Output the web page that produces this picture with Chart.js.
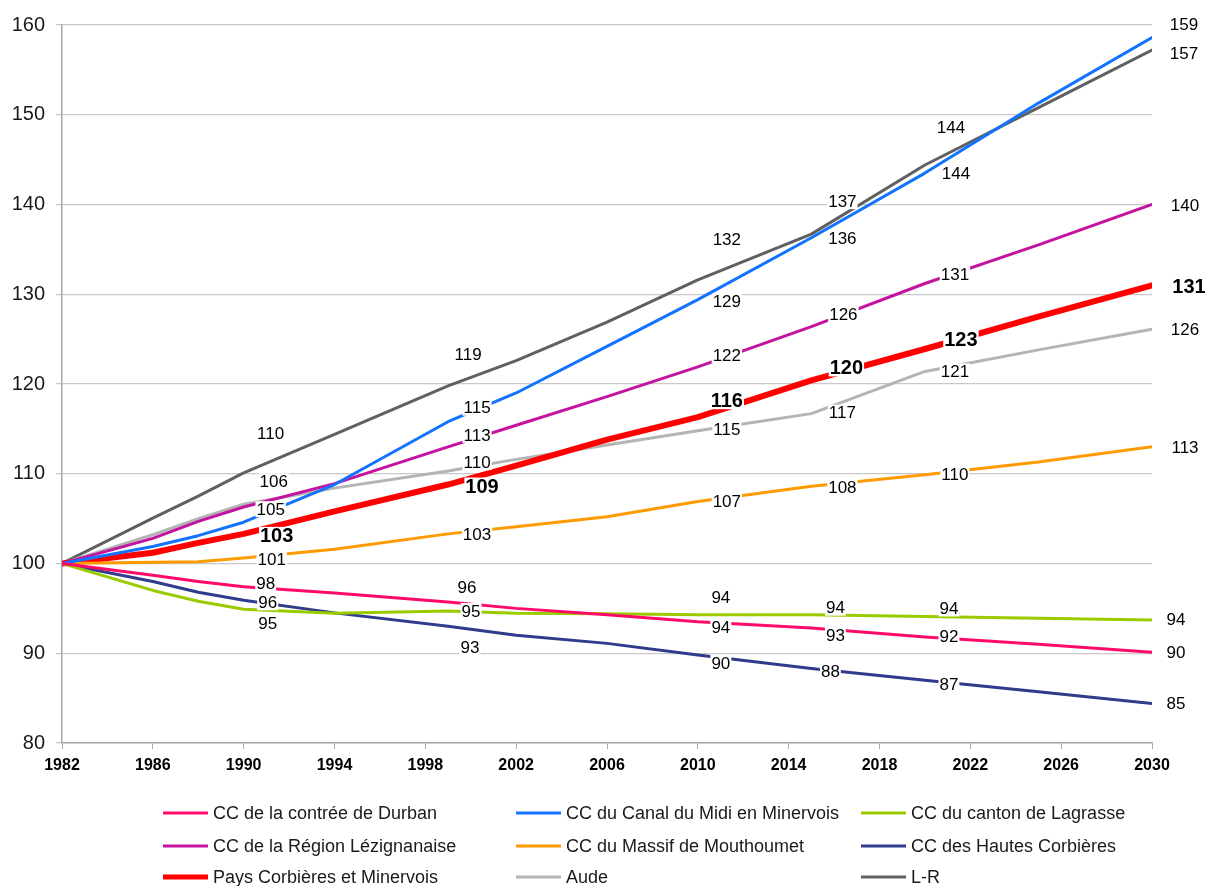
<!DOCTYPE html>
<html>
<head>
<meta charset="utf-8">
<title>Evolution de la population (base 100 en 1982)</title>
<script src="https://cdn.jsdelivr.net/npm/chart.js@4.4.1/dist/chart.umd.min.js"></script>
<style>
  html, body { margin: 0; padding: 0; background: #fff; }
  canvas { display: block; }
</style>
</head>
<body>
<canvas id="popChart" width="1207" height="886"></canvas>
<script>
// Years (census years + projections)
const years = [1982, 1986, 1988, 1990, 1994, 1999, 2002, 2006, 2010, 2015, 2020, 2025, 2030];

// Index values (1982 = 100)
const durban      = [100, 98.7, 98.0, 97.4, 96.7, 95.7, 95.0, 94.3, 93.5, 92.8, 91.8, 91.0, 90.1];
const canalMidi   = [100, 101.9, 103.1, 104.6, 108.8, 115.8, 119.0, 124.2, 129.4, 136.3, 143.5, 151.3, 158.6];
const lagrasse    = [100, 97.0, 95.8, 94.9, 94.45, 94.7, 94.45, 94.4, 94.3, 94.3, 94.1, 93.9, 93.7];
const lezignan    = [100, 102.8, 104.7, 106.3, 108.9, 113.0, 115.4, 118.6, 121.9, 126.4, 131.2, 135.5, 140.0];
const mouthoumet  = [100, 100.15, 100.2, 100.6, 101.6, 103.3, 104.1, 105.2, 106.9, 108.6, 109.9, 111.3, 113.0];
const hautesCorb  = [100, 98.0, 96.8, 95.9, 94.5, 93.0, 92.0, 91.1, 89.8, 88.3, 87.0, 85.7, 84.4];
const paysCorbMin = [100, 101.2, 102.3, 103.3, 105.8, 108.8, 110.9, 113.8, 116.3, 120.4, 123.9, 127.5, 131.0];
const aude        = [100, 103.2, 105.0, 106.6, 108.4, 110.3, 111.6, 113.2, 114.8, 116.7, 121.4, 123.8, 126.1];
const languedocR  = [100, 105.05, 107.5, 110.1, 114.4, 119.8, 122.6, 126.9, 131.6, 136.7, 144.4, 150.8, 157.2];

// Years that carry a value label, and the labels printed there
const labelYears = [1990, 1999, 2010, 2015, 2020, 2030];
const durbanLabels      = ['98', '96', '94', '93', '92', '90'];
const canalMidiLabels   = ['105', '115', '129', '136', '144', '159'];
const lagrasseLabels    = ['95', '95', '94', '94', '94', '94'];
const lezignanLabels    = [null, '113', '122', '126', '131', '140'];
const mouthoumetLabels  = ['101', '103', '107', '108', '110', '113'];
const hautesCorbLabels  = ['96', '93', '90', '88', '87', '85'];
const paysCorbMinLabels = ['103', '109', '116', '120', '123', '131'];
const audeLabels        = ['106', '110', '115', '117', '121', '126'];
const languedocRLabels  = ['110', '119', '132', '137', '144', '157'];

const FONT = '"Liberation Sans", Arial, Helvetica, sans-serif';

// Series in legend order (3 columns), with styling and label offsets (px from the point)
const series = [
  { name: 'CC de la contrée de Durban', data: durban, labels: durbanLabels, color: '#FF0A6A', width: 3,
    off: [[22, -4], [19, -15], [23, 5], [24, 7], [24, -1], [24, 0]] },
  { name: 'CC du Canal du Midi en Minervois', data: canalMidi, labels: canalMidiLabels, color: '#1273FF', width: 3,
    off: [[27, -13], [29, -14], [29, 2], [31, 1], [31, 0], [32, -13]] },
  { name: 'CC du canton de Lagrasse', data: lagrasse, labels: lagrasseLabels, color: '#99CC00', width: 3,
    off: [[24, 14], [23, 0], [23, -17], [24, -7], [24, -8], [24, -1]] },
  { name: 'CC de la Région Lézignanaise', data: lezignan, labels: lezignanLabels, color: '#C4139F', width: 3,
    off: [[0, 0], [29, -12], [29, -12], [32, -12], [30, -9], [33, 1]] },
  { name: 'CC du Massif de Mouthoumet', data: mouthoumet, labels: mouthoumetLabels, color: '#FF9A00', width: 3,
    off: [[28, 1], [29, 0], [29, 0], [31, 1], [30, 0], [33, 0]] },
  { name: 'CC des Hautes Corbières', data: hautesCorb, labels: hautesCorbLabels, color: '#2F3B8C', width: 3,
    off: [[24, 2], [22, 21], [23, 8], [19, 3], [24, 4], [24, 0]] },
  { name: 'Pays Corbières et Minervois', data: paysCorbMin, labels: paysCorbMinLabels, color: '#FF0000', width: 6, bold: true,
    off: [[33, 2], [34, 2], [29, -17], [35, -13], [36, -10], [37, 1]] },
  { name: 'Aude', data: aude, labels: audeLabels, color: '#B4B4B4', width: 3,
    off: [[30, -23], [29, -9], [29, -1], [31, -1], [30, 0], [33, 0]] },
  { name: 'L-R', data: languedocR, labels: languedocRLabels, color: '#606060', width: 3,
    off: [[27, -40], [20, -31], [29, -41], [31, -33], [26, -38], [32, 3]] }
];

// Value labels with a white box, drawn over the lines
const valueLabels = {
  id: 'valueLabels',
  afterDatasetsDraw(chart) {
    const ctx = chart.ctx;
    const xs = chart.scales.x, ys = chart.scales.y;
    ctx.save();
    ctx.textAlign = 'center';
    ctx.textBaseline = 'middle';
    series.forEach(s => {
      ctx.font = s.bold ? 'bold 20px ' + FONT : '17px ' + FONT;
      labelYears.forEach((yr, i) => {
        const txt = s.labels[i];
        if (!txt) return;
        const idx = years.indexOf(yr);
        const px = xs.getPixelForValue(yr) + s.off[i][0];
        const py = ys.getPixelForValue(s.data[idx]) + s.off[i][1];
        const w = ctx.measureText(txt).width + 2;
        const h = s.bold ? 18 : 16;
        ctx.fillStyle = '#fff';
        ctx.fillRect(px - w / 2, py - h / 2, w, h);
        ctx.fillStyle = '#000';
        ctx.fillText(txt, px, py + 1);
      });
    });
    ctx.restore();
  }
};

// Three-column legend under the chart
const gridLegend = {
  id: 'gridLegend',
  afterDraw(chart) {
    const ctx = chart.ctx;
    const colX = [163, 516, 861];
    const rowY = [813, 846, 877];
    ctx.save();
    ctx.font = '18px ' + FONT;
    ctx.textBaseline = 'middle';
    ctx.textAlign = 'left';
    series.forEach((s, i) => {
      const x = colX[i % 3], y = rowY[Math.floor(i / 3)];
      ctx.strokeStyle = s.color;
      ctx.lineWidth = s.bold ? 5 : 3;
      ctx.beginPath();
      ctx.moveTo(x, y);
      ctx.lineTo(x + 45, y);
      ctx.stroke();
      ctx.fillStyle = '#1a1a1a';
      ctx.fillText(s.name, x + 50, y + 1);
    });
    ctx.restore();
  }
};

const ctx = document.getElementById('popChart').getContext('2d');
const popChart = new Chart(ctx, {
  type: 'line',
  data: {
    datasets: series.map(s => ({
      label: s.name,
      data: years.map((yr, i) => ({ x: yr, y: s.data[i] })),
      borderColor: s.color,
      backgroundColor: s.color,
      borderWidth: s.width,
      pointRadius: 0,
      tension: 0,
      fill: false,
      borderCapStyle: 'round',
      borderJoinStyle: 'round'
    }))
  },
  options: {
    responsive: false,
    animation: false,
    layout: { padding: { left: 0, right: 55, top: 25, bottom: 103 } },
    plugins: {
      legend: { display: false },
      tooltip: { enabled: false }
    },
    scales: {
      x: {
        type: 'linear',
        min: 1982,
        max: 2030,
        afterFit: s => { s.height = 40; },
        ticks: {
          stepSize: 4,
          autoSkip: false,
          maxRotation: 0,
          padding: 7,
          color: '#000',
          font: { family: FONT, size: 16, weight: 'bold' },
          callback: v => String(v)
        },
        grid: { drawOnChartArea: false, drawTicks: true, tickLength: 6, color: '#A8A8A8' },
        border: { color: '#A8A8A8', width: 1.5 }
      },
      y: {
        min: 80,
        max: 160,
        afterFit: s => { s.width = 62; },
        ticks: {
          stepSize: 10,
          padding: 11,
          color: '#1a1a1a',
          font: { family: FONT, size: 20 }
        },
        grid: { color: '#C8C8C8', lineWidth: 1.3, tickLength: 6 },
        border: { color: '#A8A8A8', width: 1.5 }
      }
    }
  },
  plugins: [valueLabels, gridLegend]
});
</script>
</body>
</html>
